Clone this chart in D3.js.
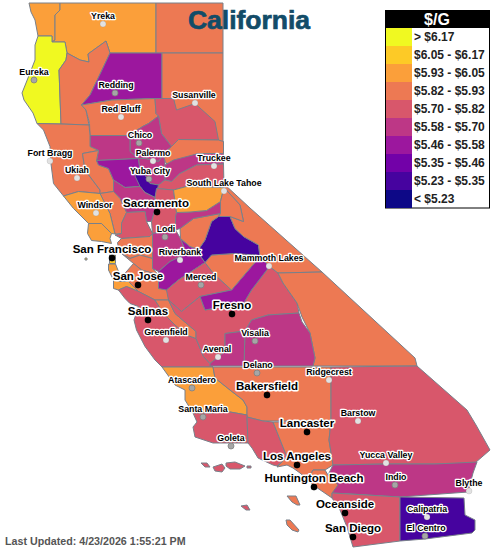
<!DOCTYPE html>
<html><head><meta charset="utf-8">
<script src="https://cdnjs.cloudflare.com/ajax/libs/d3/7.8.5/d3.min.js"></script>
<style>html,body{margin:0;padding:0;background:#fff}svg{display:block}
text{font-family:"Liberation Sans",Arial,sans-serif}</style></head><body>
<svg id="map" width="500" height="550"></svg>
<script>
// Legend
const legendTitle = "$/G";
const legendLabels = ["> $6.17","$6.05 - $6.17","$5.93 - $6.05","$5.82 - $5.93","$5.70 - $5.82","$5.58 - $5.70","$5.46 - $5.58","$5.35 - $5.46","$5.23 - $5.35","< $5.23"];
const priceBreaks = [5.23,5.35,5.46,5.58,5.70,5.82,5.93,6.05,6.17];
const bandColors = ["#0d0887","#46039f","#7201a8","#9c179e","#bd3786","#d8576b","#ed7953","#fb9f3a","#fdca26","#f0f921"];
const titleText = "California";
const updatedText = "Last Updated: 4/23/2026 1:55:21 PM";

// Counties, in drawing order (boundaries in km east / km south of the map's grid origin)
const countyNames = ["Del Norte","Siskiyou","Modoc","Humboldt","Trinity","Shasta","Lassen","Tehama","Plumas","Butte","Glenn","Mendocino","Lake","Colusa","Sierra","Yuba","Nevada","Placer","Sutter","Yolo","Napa","Sonoma","Marin","Solano","Sacramento","Contra Costa","Alameda","San Francisco","San Mateo","Santa Clara","Santa Cruz","Monterey","San Benito","San Joaquin","Stanislaus","Merced","Fresno","Madera","Mariposa","Tuolumne","Calaveras","Amador","El Dorado","Mono","Alpine","Inyo","Tulare","Kings","San Luis Obispo","Kern","Santa Barbara","Ventura","Los Angeles","San Bernardino","Riverside","Orange","San Diego","Imperial"];
const countyPrices = [6.00,5.98,5.87,6.25,5.87,5.52,5.88,5.86,5.76,5.64,5.65,5.87,5.85,5.52,5.88,5.64,5.63,5.76,5.29,5.64,5.86,5.96,6.02,5.75,5.76,5.86,5.87,6.10,5.99,5.88,5.95,5.76,5.87,5.64,5.52,5.76,5.75,5.52,5.87,5.29,5.87,5.64,5.97,5.87,5.88,5.87,5.64,5.65,5.98,5.87,5.76,5.76,5.87,5.76,5.63,5.88,5.76,5.29];
const countyRings = [
 [[[58,6],[120,6],[120,20],[110,30],[110,80],[104,84],[104,72],[76,72],[70,40],[62,24]]],
 [[[120,6],[312,6],[312,106],[220,106],[212,82],[176,108],[178,124],[160,120],[134,106],[130,84],[104,84],[110,80],[110,30],[120,20]]],
 [[[312,6],[446,6],[446,106],[312,106]]],
 [[[76,72],[104,72],[104,84],[130,84],[134,106],[132,120],[118,140],[122,248],[74,247],[66,226],[48,200],[44,186],[56,156],[70,120],[70,90]]],
 [[[132,120],[118,140],[122,248],[178,250],[172,220],[163,210],[180,190],[204,140],[220,106],[212,82],[176,108],[178,124],[160,120],[134,106]]],
 [[[220,106],[324,106],[324,197],[310,197],[224,200],[163,210],[180,190],[204,140]]],
 [[[324,106],[446,106],[446,290],[360,285],[347,197],[324,197]]],
 [[[163,210],[224,200],[310,197],[312,227],[317,232],[297,247],[287,252],[257,271],[180,271],[179,247],[172,220]]],
 [[[310,197],[347,197],[353,220],[390,207],[430,243],[437,280],[357,279],[343,293],[323,267],[317,232],[312,227]]],
 [[[287,252],[297,247],[317,232],[323,267],[343,293],[327,307],[317,323],[290,317],[277,317],[260,303],[260,280],[257,271]]],
 [[[180,271],[257,271],[260,280],[260,303],[277,317],[193,321],[197,301],[180,293]]],
 [[[74,247],[122,248],[178,250],[180,271],[180,293],[197,301],[165,307],[170,340],[200,380],[200,387],[157,383],[127,392],[107,367],[101,320],[100,293],[87,260]]],
 [[[197,301],[193,321],[197,330],[217,337],[227,360],[227,383],[200,387],[200,380],[170,340],[165,307]]],
 [[[193,321],[277,317],[280,340],[290,350],[300,367],[317,370],[250,375],[227,360],[217,337],[197,330]]],
 [[[357,279],[437,280],[447,283],[447,307],[397,307],[353,323],[343,340],[330,323],[327,310],[343,293]]],
 [[[277,317],[290,317],[317,323],[327,310],[330,323],[330,360],[317,370],[300,367],[290,350],[280,340]]],
 [[[330,330],[347,320],[397,307],[447,307],[447,328],[393,330],[360,347],[343,363],[330,360]]],
 [[[317,370],[330,360],[343,363],[360,347],[393,330],[447,328],[448,375],[373,373],[347,380],[313,377]]],
 [[[270,352],[280,340],[290,350],[300,367],[317,370],[310,395],[290,385],[280,373]]],
 [[[227,360],[250,375],[280,373],[290,385],[310,395],[313,410],[303,443],[293,443],[290,423],[253,425],[240,397],[227,383]]],
 [[[227,383],[240,397],[253,425],[243,447],[243,467],[230,468],[220,427],[200,387]]],
 [[[127,392],[157,383],[200,387],[220,427],[230,468],[223,467],[203,447],[177,447],[147,417]]],
 [[[177,447],[203,447],[223,467],[220,477],[223,487],[203,483],[183,481],[175,467]]],
 [[[253,425],[290,423],[293,443],[305,467],[300,473],[243,477],[230,470],[243,467],[243,447]]],
 [[[313,377],[347,380],[353,425],[351,460],[305,467],[303,443],[313,410],[310,395]]],
 [[[235,485],[243,477],[300,473],[305,467],[305,517],[280,510],[260,517],[243,507],[237,497]]],
 [[[243,507],[260,517],[280,510],[305,517],[305,537],[317,550],[283,540],[267,527]]],
 [[[219,510],[231,510],[231,527],[219,527]],[[170,516],[174,516],[174,520],[170,520]]],
 [[[217,528],[231,528],[237,543],[257,563],[240,563],[227,560],[217,540]]],
 [[[257,563],[247,550],[267,527],[283,540],[317,550],[337,573],[337,600],[310,600],[277,583]]],
 [[[227,560],[240,563],[257,563],[277,583],[253,573],[237,580],[227,577]]],
 [[[237,580],[253,573],[277,583],[310,600],[327,627],[350,650],[373,670],[392,677],[407,713],[420,727],[426,734],[324,734],[310,720],[290,693],[273,660],[268,640],[277,613],[260,607],[250,597]]],
 [[[310,600],[337,600],[350,627],[392,663],[392,677],[373,670],[350,650],[327,627]]],
 [[[305,467],[351,460],[361,477],[373,507],[340,523],[317,543],[305,537]]],
 [[[317,577],[317,543],[340,523],[373,507],[361,477],[380,493],[397,499],[400,511],[410,525],[357,560],[333,580]]],
 [[[333,580],[357,560],[410,525],[427,547],[463,580],[400,593],[363,623],[337,600]]],
 [[[363,623],[400,593],[410,620],[447,613],[487,607],[503,580],[539,533],[556,546],[566,566],[594,606],[598,626],[536,630],[503,640],[490,662],[450,667],[450,703],[420,727],[407,713],[392,677],[392,663],[350,627],[337,600]]],
 [[[400,593],[463,580],[520,513],[539,533],[503,580],[487,607],[447,613],[410,620]]],
 [[[410,525],[423,510],[467,507],[513,510],[520,513],[463,580],[427,547]]],
 [[[397,499],[410,480],[423,443],[437,433],[460,433],[470,457],[487,473],[517,490],[520,513],[513,510],[467,507],[423,510],[410,525],[400,511]]],
 [[[361,477],[360,457],[387,437],[441,427],[437,433],[423,443],[410,480],[397,499],[380,493]]],
 [[[351,433],[353,425],[380,424],[413,421],[441,403],[441,427],[387,437],[360,457],[351,460]]],
 [[[347,380],[373,373],[448,375],[441,403],[413,421],[380,424],[353,425]]],
 [[[446,366],[500,416],[644,544],[556,546],[539,533],[520,513],[517,490],[487,473],[470,457],[460,433],[487,443],[480,410],[448,375]]],
 [[[448,375],[480,410],[487,443],[460,433],[437,433],[441,427],[441,403]]],
 [[[556,546],[644,544],[830,716],[834,732],[626,732],[630,716],[620,666],[604,634],[594,606],[566,566]]],
 [[[490,662],[503,640],[536,630],[598,626],[604,644],[620,666],[630,716],[626,732],[488,732]]],
 [[[450,667],[490,662],[488,732],[420,732],[420,727],[450,703]]],
 [[[324,734],[426,734],[430,756],[460,780],[486,800],[494,814],[494,830],[460,824],[420,826],[386,826],[370,800],[370,780],[350,770]]],
 [[[426,734],[662,734],[662,842],[526,842],[494,834],[494,814],[486,800],[460,780],[430,756]]],
 [[[386,826],[420,826],[460,824],[494,830],[496,886],[474,886],[426,886],[390,874],[386,854],[394,844]],[[402,926],[414,926],[420,934],[410,934]],[[426,934],[444,928],[450,936],[444,944],[430,942]],[[452,926],[470,924],[490,932],[480,938],[460,938],[452,932]]],
 [[[494,834],[526,842],[546,844],[566,894],[574,914],[554,932],[546,930],[516,916],[504,896],[496,886]],[[494,932],[502,932],[502,936],[494,936]],[[482,1012],[494,1010],[500,1020],[492,1020]]],
 [[[546,844],[662,842],[658,880],[666,930],[650,940],[626,940],[616,960],[600,946],[586,936],[574,930],[554,934],[574,914],[566,894]],[[574,992],[592,992],[600,1010],[594,1010],[584,1004]],[[572,1040],[580,1040],[598,1060],[596,1064],[584,1060],[574,1050]]],
 [[[662,734],[834,732],[934,820],[952,850],[980,900],[950,926],[870,928],[772,928],[666,930],[658,880],[662,842]]],
 [[[666,930],[772,928],[870,928],[954,924],[946,946],[936,984],[800,994],[704,988],[664,986],[674,966],[656,950]]],
 [[[626,940],[650,940],[656,950],[676,970],[664,986],[664,996],[626,970],[616,960]]],
 [[[664,986],[800,994],[800,1082],[706,1094],[700,1074],[694,1054],[680,1020],[664,996]]],
 [[[800,994],[928,996],[930,1030],[950,1040],[950,1060],[944,1066],[850,1078],[800,1082]]]
];

// Cities: name, km east, km south, tier (0 major, 1 dim, 2 light)
const cityNames = ["Yreka","Eureka","Redding","Red Bluff","Susanville","Chico","Fort Bragg","Palermo","Truckee","Ukiah","Yuba City","South Lake Tahoe","Windsor","Sacramento","Lodi","Riverbank","San Francisco","Mammoth Lakes","Merced","San Jose","Fresno","Salinas","Greenfield","Visalia","Avenal","Delano","Ridgecrest","Atascadero","Bakersfield","Santa Maria","Barstow","Lancaster","Goleta","Los Angeles","Yucca Valley","Huntington Beach","Indio","Blythe","Oceanside","Calipatria","San Diego","El Centro"];
const cityEast = [206,68,230,242,390,278,100,306,428,154,298,448,192,314,330,360,224,538,402,276,464,296,332,510,436,514,658,384,534,406,716,614,462,594,772,628,790,938,690,854,706,850];
const citySouth = [48,160,186,234,206,286,322,322,332,356,358,382,426,424,474,520,516,532,570,570,628,640,680,682,714,746,760,776,790,834,842,864,892,930,926,974,970,982,1026,1034,1074,1072];
const cityTier = [2,1,1,2,2,1,2,2,2,2,1,2,2,0,1,2,0,2,1,0,0,0,2,1,2,1,2,1,0,1,2,0,1,0,2,0,1,2,0,2,0,1];
const labelEast = [206,68,232,242,388,280,100,306,428,154,300,448,190,312,332,360,224,538,402,276,464,296,332,510,434,516,658,384,534,406,716,614,462,594,772,628,792,938,690,854,706,852];

const x = d3.scaleLinear().domain([0,1000]).range([0,500]);
const y = d3.scaleLinear().domain([0,1100]).range([0,550]);
const color = d3.scaleThreshold().domain(priceBreaks).range(bandColors);
const path = d3.geoPath(d3.geoTransform({point(e,s){this.stream.point(x(e),y(s));}}));
const svg = d3.select("#map");

const features = countyNames.map((name,i)=>({type:"Feature",properties:{name,price:countyPrices[i]},
  geometry:{type:"MultiPolygon",coordinates:countyRings[i].map(r=>[r.concat([r[0]])])}}));

svg.append("g").selectAll("path").data(features).join("path")
  .attr("d",path).attr("fill",d=>color(d.properties.price))
  .attr("stroke","#78808a").attr("stroke-width",1).attr("stroke-linejoin","round");

// Title
svg.append("text").attr("x",249).attr("y",29).attr("text-anchor","middle")
  .attr("font-size",26.5).attr("font-weight","bold").attr("fill","#124c68")
  .attr("stroke","#124c68").attr("stroke-width",0.7).text(titleText);

// City markers and labels
const cities = cityNames.map((name,i)=>({name,e:cityEast[i],s:citySouth[i],t:cityTier[i],le:labelEast[i]}));
const dotFill = ["#000000","#a6a6a6","#e2e2e2"];
svg.append("g").selectAll("circle").data(cities).join("circle")
  .attr("cx",d=>x(d.e)).attr("cy",d=>y(d.s)).attr("r",d=>d.t===0?3.2:3)
  .attr("fill",d=>dotFill[d.t]).attr("stroke",d=>d.t===0?"#000":"#808080").attr("stroke-width",d=>d.t===1?0.8:0.2);
svg.append("g").selectAll("text").data(cities).join("text")
  .attr("x",d=>x(d.le)).attr("y",d=>y(d.s)+(d.t===0?-5:-5.5)).attr("text-anchor","middle")
  .attr("font-size",d=>d.t===0?11.5:8.8).attr("font-weight","bold").attr("fill","#000")
  .attr("stroke","#fff").attr("stroke-width",d=>d.t===0?3:2.6).attr("stroke-linejoin","round")
  .style("paint-order","stroke").text(d=>d.name);

// Legend
const rowY = d3.scaleBand().domain(d3.range(legendLabels.length)).range([28,208]);
const lg = svg.append("g");
const legendColors = bandColors.slice().reverse();
lg.append("rect").attr("x",385.5).attr("y",10.5).attr("width",104).attr("height",197.5).attr("fill","#fff").attr("stroke","#000");
lg.append("rect").attr("x",385).attr("y",10).attr("width",105).attr("height",18).attr("fill","#000");
lg.append("text").attr("x",437).attr("y",24.5).attr("text-anchor","middle").attr("font-size",16).attr("font-weight","bold").attr("fill","#fff").text(legendTitle);
lg.selectAll("rect.sw").data(legendLabels).join("rect").attr("class","sw")
  .attr("x",386).attr("width",26).attr("y",(d,i)=>rowY(i)).attr("height",rowY.bandwidth()).attr("fill",(d,i)=>legendColors[i]);
lg.selectAll("text.lb").data(legendLabels).join("text").attr("class","lb")
  .attr("x",414).attr("y",(d,i)=>rowY(i)+13).attr("font-size",12).attr("font-weight","bold").attr("fill","#222").text(d=>d);

// Footer
svg.append("text").attr("x",5).attr("y",545).attr("font-size",10.7).attr("font-weight","bold").attr("fill","#555").text(updatedText);
</script></body></html>
